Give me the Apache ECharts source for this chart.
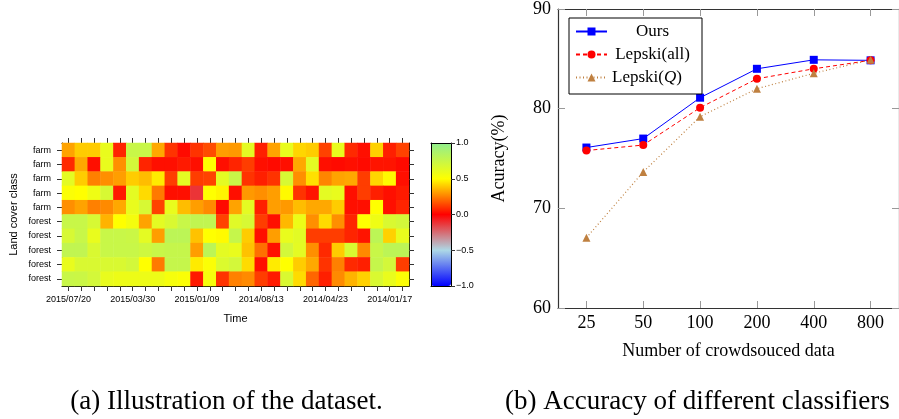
<!DOCTYPE html>
<html><head><meta charset="utf-8">
<script src="https://cdn.jsdelivr.net/npm/echarts/dist/echarts.min.js"></script>
<style>html,body{margin:0;padding:0;background:#fff}#c{width:899px;height:419px}</style>
</head><body><div id="c"></div><script>
// ---------- data: heatmap (left) ----------
const rowLabels = ['farm','farm','farm','farm','farm','forest','forest','forest','forest','forest'];
const timeLabels = ['2015/07/20','2015/03/30','2015/01/09','2014/08/13','2014/04/23','2014/01/17'];
const row0 = [0.32,0.40,0.40,0.60,0.07,0.75,0.75,0.33,0.10,0.02,0.10,0.15,0.31,0.30,0.62,0.06,0.32,0.60,0.42,0.40,0.13,0.60,0.08,0.03,0.41,0.06,0.13];
const row1 = [0.08,0.33,0.03,0.60,0.28,0.70,0.07,0.03,0.03,0.05,0.03,0.50,0.03,0.07,0.12,0.03,0.02,0.03,0.33,0.62,0.03,0.02,0.03,0.02,0.04,0.04,0.02];
const row2 = [0.62,0.40,0.25,0.28,0.31,0.40,0.37,0.46,0.12,0.62,0.12,0.13,0.62,0.75,0.10,0.06,0.10,0.68,0.28,0.44,0.26,0.32,0.33,0.12,0.42,0.49,0.03];
const row3 = [0.52,0.50,0.57,0.68,0.05,0.62,0.43,0.24,0.03,0.03,-0.12,0.50,0.48,0.03,0.30,0.28,0.31,0.49,0.10,0.04,0.62,0.60,0.03,0.12,0.06,0.03,0.05];
const row4 = [0.28,0.32,0.25,0.27,0.33,0.60,0.68,0.13,0.60,0.37,0.31,0.27,0.02,0.32,0.62,0.06,0.31,0.30,0.37,0.33,0.33,0.40,0.03,0.03,0.50,0.03,0.07];
const row5 = [0.75,0.75,0.68,0.35,0.50,0.55,0.32,0.62,0.67,0.75,0.78,0.78,0.13,0.64,0.68,0.12,0.03,0.36,0.58,0.28,0.43,0.28,0.07,0.50,0.57,0.67,0.70];
const row6 = [0.68,0.75,0.60,0.75,0.75,0.74,0.62,0.31,0.80,0.80,0.38,0.50,0.49,0.76,0.40,0.03,0.31,0.60,0.63,0.12,0.12,0.12,0.07,0.04,0.80,0.41,0.60];
const row7 = [0.78,0.78,0.67,0.75,0.75,0.75,0.72,0.75,0.76,0.76,0.31,0.80,0.62,0.60,0.38,0.22,0.03,0.70,0.62,0.28,0.08,0.40,0.67,0.27,0.75,0.80,0.80];
const row8 = [0.60,0.67,0.67,0.67,0.67,0.70,0.50,0.24,0.76,0.76,0.46,0.52,0.66,0.70,0.43,0.03,0.46,0.50,0.40,0.33,0.10,0.25,0.08,0.06,0.76,0.70,0.12];
const row9 = [0.75,0.74,0.70,0.60,0.58,0.58,0.58,0.58,0.54,0.52,0.05,0.54,0.10,0.25,0.27,0.12,0.05,0.67,0.43,0.20,0.06,0.27,0.35,0.41,0.67,0.60,0.52];
const colorStops = ['#0000ff','#add8e6','#ff0000','#ffff00','#90ee90'];
const barTicks = [-1, -0.5, 0, 0.5, 1];

// ---------- data: accuracy (right) ----------
const sizes = ['25','50','100','200','400','800'];
const ours = [76.1, 77.0, 81.1, 84.0, 84.9, 84.85];
const lepskiAll = [75.8, 76.35, 80.1, 83.0, 84.0, 84.85];
const lepskiQ = [67.05, 73.65, 79.2, 82.0, 83.55, 84.9];
const accTicks = [60, 70, 80, 90];

const rows = [row0,row1,row2,row3,row4,row5,row6,row7,row8,row9];
const nCols = row0.length;
const colIds = [];
for (let i = 0; i < nCols; i++) colIds.push(String(i));
const heatData = [];
rows.forEach((r, ri) => r.forEach((v, ci) => heatData.push([ci, ri, v])));

const SANS = '"Liberation Sans", Arial, sans-serif';
const SERIF = '"Liberation Serif", "Times New Roman", serif';
const blackLine = {show: true, onZero: false, lineStyle: {color: '#000', width: 1}};
const heatTick = {show: true, alignWithLabel: true, interval: 0, length: 5, lineStyle: {color: '#333', width: 1}};
const lineAxis = {show: true, onZero: false, lineStyle: {color: '#333', width: 1.2}};
const lineTick = {show: true, inside: true, alignWithLabel: true, length: 7, lineStyle: {color: '#999', width: 1}};

const chart = echarts.init(document.getElementById('c'), null, {renderer: 'canvas'});
chart.setOption({
  animation: false,
  backgroundColor: '#fff',
  grid: [
    {left: 62, top: 143, width: 347, height: 143},
    {left: 431, top: 143, width: 20, height: 143},
    {left: 558, top: 8, width: 347, height: 300}
  ],
  xAxis: [
    {gridIndex: 0, type: 'category', data: colIds, position: 'bottom', axisLine: blackLine, axisTick: heatTick,
     axisLabel: {interval: 0, margin: 9, fontSize: 9, fontFamily: SANS, color: '#000',
       formatter: (v, i) => (i % 5 === 0 ? (timeLabels[i / 5] || '') : '')},
     splitLine: {show: false}, name: 'Time', nameLocation: 'middle', nameGap: 27,
     nameTextStyle: {fontSize: 11, fontFamily: SANS, color: '#000'}},
    {gridIndex: 0, type: 'category', data: colIds, position: 'top', axisLine: blackLine, axisTick: heatTick,
     axisLabel: {show: false}, splitLine: {show: false}},
    {gridIndex: 1, type: 'value', min: 0, max: 1, position: 'bottom', axisLine: blackLine, axisTick: {show: false},
     axisLabel: {show: false}, splitLine: {show: false}, z: 10},
    {gridIndex: 1, type: 'value', min: 0, max: 1, position: 'top', axisLine: blackLine, axisTick: {show: false},
     axisLabel: {show: false}, splitLine: {show: false}, z: 10},
    {gridIndex: 2, type: 'category', data: sizes, boundaryGap: true, position: 'bottom', axisLine: lineAxis, axisTick: lineTick,
     axisLabel: {margin: 6, fontSize: 18, fontFamily: SERIF, color: '#000'}, splitLine: {show: false},
     name: 'Number of crowdsouced data', nameLocation: 'middle', nameGap: 34,
     nameTextStyle: {fontSize: 18, fontFamily: SERIF, color: '#000'}},
    {gridIndex: 2, type: 'category', data: sizes, boundaryGap: true, position: 'top', axisLine: lineAxis, axisTick: lineTick,
     axisLabel: {show: false}, splitLine: {show: false}}
  ],
  yAxis: [
    {gridIndex: 0, type: 'category', data: rowLabels, inverse: true, position: 'left', axisLine: blackLine, axisTick: heatTick,
     axisLabel: {interval: 0, margin: 11, fontSize: 9, fontFamily: SANS, color: '#000'}, splitLine: {show: false},
     name: 'Land cover class', nameLocation: 'middle', nameGap: 43, nameRotate: 90,
     nameTextStyle: {fontSize: 11, fontFamily: SANS, color: '#000'}},
    {gridIndex: 0, type: 'category', data: rowLabels, inverse: true, position: 'right', axisLine: blackLine, axisTick: heatTick,
     axisLabel: {show: false}, splitLine: {show: false}},
    {gridIndex: 1, type: 'value', min: barTicks[0], max: barTicks[barTicks.length - 1], interval: 0.5, position: 'right',
     axisLine: blackLine, axisTick: {show: true, length: 4, lineStyle: {color: '#333'}},
     axisLabel: {margin: 5, fontSize: 9, fontFamily: SANS, color: '#000', showMinLabel: true, showMaxLabel: true,
       formatter: v => (v < 0 ? '\u2212' : '') + Math.abs(v).toFixed(1)},
     splitLine: {show: false}, z: 10},
    {gridIndex: 1, type: 'value', min: -1, max: 1, position: 'left', axisLine: blackLine, axisTick: {show: false},
     axisLabel: {show: false}, splitLine: {show: false}, z: 10},
    {gridIndex: 2, type: 'value', min: accTicks[0], max: accTicks[accTicks.length - 1], interval: 10, position: 'left',
     axisLine: lineAxis, axisTick: lineTick,
     axisLabel: {margin: 7, fontSize: 18, fontFamily: SERIF, color: '#000', showMinLabel: true, showMaxLabel: true},
     splitLine: {show: false}, name: 'Acuracy(%)', nameLocation: 'middle', nameGap: 50, nameRotate: 90,
     nameTextStyle: {fontSize: 18, fontFamily: SERIF, color: '#000'}},
    {gridIndex: 2, type: 'value', min: 60, max: 90, interval: 10, position: 'right', axisLine: lineAxis, axisTick: lineTick,
     axisLabel: {show: false}, splitLine: {show: false}}
  ],
  visualMap: {
    type: 'continuous', min: -1, max: 1, seriesIndex: 0, calculable: false, orient: 'vertical',
    left: 431, top: 143, itemWidth: 20, itemHeight: 143, padding: 0, inRange: {color: colorStops}, hoverLink: false
  },
  legend: {
    left: 569, top: 18, orient: 'vertical', itemWidth: 31, itemHeight: 10, itemGap: 6,
    padding: [5, 9, 8, 6], borderColor: '#000', borderWidth: 1, backgroundColor: '#fff',
    data: ['Ours', 'Lepski(all)', 'Lepski(Q)'],
    formatter: name => name === 'Lepski(Q)' ? '{n|Lepski(}{i|Q}{n|)}' : '{c|' + name + '}',
    textStyle: {fontFamily: SERIF, fontSize: 17, color: '#000',
      rich: {
        c: {width: 81, align: 'center', fontFamily: SERIF, fontSize: 17, lineHeight: 18},
        n: {fontFamily: SERIF, fontSize: 17, lineHeight: 18},
        i: {fontFamily: SERIF, fontSize: 17, fontStyle: 'italic', lineHeight: 18}
      }}
  },
  graphic: [
    {type: 'text', x: 226.5, y: 402, style: {text: '(a) Illustration of the dataset.', fontSize: 27, fontFamily: SERIF,
      fill: '#000', textAlign: 'center', textVerticalAlign: 'middle', align: 'center', verticalAlign: 'middle'}},
    {type: 'text', x: 505, y: 402, style: {text: '(b) Accuracy of different classifiers', fontSize: 27, fontFamily: SERIF,
      fill: '#000', textAlign: 'left', textVerticalAlign: 'middle', align: 'left', verticalAlign: 'middle'}}
  ],
  series: [
    {type: 'heatmap', xAxisIndex: 0, yAxisIndex: 0, data: heatData, itemStyle: {borderWidth: 0}},
    {name: 'Ours', type: 'line', xAxisIndex: 4, yAxisIndex: 4, data: ours, symbol: 'rect', symbolSize: 8,
     itemStyle: {color: '#0000ff'}, lineStyle: {color: '#0000ff', width: 1, type: 'solid'}},
    {name: 'Lepski(all)', type: 'line', xAxisIndex: 4, yAxisIndex: 4, data: lepskiAll, symbol: 'circle', symbolSize: 8,
     itemStyle: {color: '#ff0000'}, lineStyle: {color: '#ff0000', width: 1, type: [4, 3]}},
    {name: 'Lepski(Q)', type: 'line', xAxisIndex: 4, yAxisIndex: 4, data: lepskiQ, symbol: 'triangle', symbolSize: 8,
     itemStyle: {color: '#bf8040'}, lineStyle: {color: '#bf8040', width: 1.2, type: [1, 2.5]}}
  ]
});
</script></body></html>
